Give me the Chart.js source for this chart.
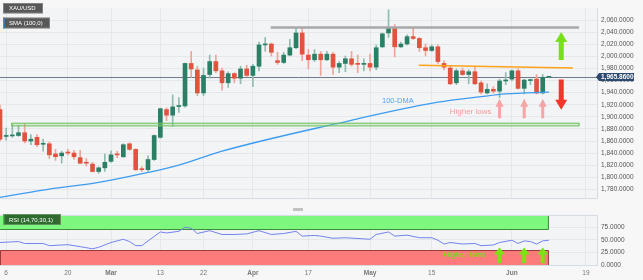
<!DOCTYPE html>
<html>
<head>
<meta charset="utf-8">
<script src="https://cdn.jsdelivr.net/npm/chart.js@4.4.0/dist/chart.umd.min.js"></script>
<style>
    html, body { margin: 0; padding: 0; background: #f7f7f8; }
    #wrap { position: relative; width: 643px; height: 280px; overflow: hidden; }
    #priceChart { position: absolute; left: 0; top: 0; }
    #rsiChart { position: absolute; left: 0; top: 207px; }
    #scroll { position: absolute; left: 293px; top: 208px; width: 10px; height: 3px; background: #c2c2c2; }
</style>
</head>
<body>
<div id="wrap">
    <canvas id="priceChart" width="643" height="207"></canvas>
    <div id="scroll"></div>
    <canvas id="rsiChart" width="643" height="73"></canvas>
</div>
<script>
// x axis: one slot per trading day, index 0 = Feb 3
const xMin = 0, xMax = 96.8;
const tickIdx = [1, 11, 18, 26, 33, 41, 50, 60, 70, 83, 95];
const tickText = ["6", "20", "Mar", "13", "22", "Apr", "17", "May", "15", "Jun", "19"];

// price panel
const priceMin = 1764, priceMax = 2080;
const priceTicks = [1780, 1800, 1820, 1840, 1860, 1880, 1900, 1920, 1940, 1960, 1980, 2000, 2020, 2040, 2060];
const lastPrice = 1965.86;

const opens = [1911.9, 1867.6, 1868.4, 1869.1, 1873.7, 1860.0, 1866.1, 1854.6, 1855.4, 1838.6,
    1835.5, 1841.6, 1840.1, 1832.5, 1824.8, 1821.8, 1809.6, 1815.7, 1826.4, 1838.6,
    1834.0, 1855.4, 1846.2, 1814.1, 1812.6, 1829.4, 1866.1, 1911.9, 1902.7, 1917.0,
    1918.0, 1988.2, 1977.5, 1939.4, 1969.9, 1991.3, 1976.0, 1956.2, 1971.4, 1963.8,
    1979.1, 1968.4, 1983.6, 2018.8, 2020.3, 1992.8, 1989.8, 2002.0, 2014.2, 2038.6,
    2002.0, 1994.3, 2003.5, 1994.3, 2003.5, 1982.1, 1988.2, 1995.9, 1988.2, 1986.7,
    1988.2, 1982.1, 2015.7, 2038.6, 2046.3, 2015.7, 2020.3, 2032.5, 2029.5, 2014.2,
    2009.6, 2015.7, 1988.2, 1980.6, 1956.2, 1976.0, 1969.9, 1974.5, 1956.2, 1939.4,
    1945.5, 1942.4, 1959.2, 1962.3, 1976.0, 1947.0, 1959.9, 1962.3, 1939.4, 1965.3];
const highs = [1919.5, 1881.3, 1887.4, 1885.9, 1889.0, 1870.6, 1870.6, 1863.0, 1858.4, 1846.2,
    1843.2, 1846.2, 1844.7, 1844.7, 1830.9, 1824.8, 1817.2, 1838.6, 1843.2, 1843.2,
    1855.4, 1856.9, 1847.0, 1817.2, 1835.5, 1870.0, 1914.5, 1914.9, 1936.3, 1931.7,
    1989.0, 2008.1, 1983.6, 1980.6, 2002.0, 2002.0, 1980.6, 1974.5, 1973.0, 1983.6,
    1985.2, 1986.7, 2023.4, 2031.0, 2021.8, 2006.6, 2006.6, 2027.9, 2046.3, 2046.3,
    2011.1, 2011.1, 2008.1, 2008.1, 2006.6, 1991.3, 2000.5, 2008.1, 2002.0, 1995.9,
    2003.5, 2018.8, 2038.6, 2076.8, 2052.4, 2023.4, 2035.6, 2046.3, 2031.0, 2020.3,
    2018.8, 2018.8, 1992.8, 1983.6, 1979.1, 1980.6, 1977.5, 1983.6, 1959.2, 1954.6,
    1950.0, 1962.3, 1973.0, 1977.5, 1979.1, 1962.3, 1962.3, 1969.9, 1969.9, 1966.5];
const lows = [1860.0, 1861.5, 1866.1, 1867.6, 1856.9, 1853.9, 1850.8, 1843.2, 1831.0, 1827.9,
    1823.3, 1837.1, 1829.4, 1822.5, 1818.7, 1808.8, 1806.5, 1809.6, 1824.8, 1832.5,
    1833.0, 1844.7, 1811.1, 1809.6, 1809.6, 1827.9, 1864.5, 1893.6, 1884.4, 1907.3,
    1916.0, 1965.3, 1934.8, 1934.8, 1963.8, 1973.0, 1943.9, 1948.5, 1956.2, 1954.6,
    1966.9, 1950.0, 1976.0, 2008.1, 2000.5, 1986.7, 1988.2, 2000.5, 2012.7, 1992.8,
    1979.1, 1991.3, 1968.4, 1992.8, 1969.9, 1973.0, 1974.5, 1983.6, 1973.0, 1976.0,
    1976.0, 1977.5, 2014.2, 2031.0, 1998.9, 2014.2, 2018.8, 2027.9, 2008.1, 2000.5,
    2008.1, 1988.2, 1977.5, 1953.1, 1953.1, 1968.4, 1954.6, 1953.1, 1937.8, 1937.8,
    1939.4, 1931.7, 1953.1, 1959.2, 1945.5, 1937.8, 1953.1, 1937.8, 1937.8, 1964.8];
const closes = [1863.0, 1869.1, 1869.4, 1873.7, 1860.0, 1863.0, 1853.9, 1856.2, 1837.1, 1834.0,
    1840.1, 1840.1, 1834.0, 1823.3, 1823.3, 1809.6, 1815.7, 1824.8, 1837.1, 1837.1,
    1853.9, 1846.2, 1812.6, 1812.6, 1829.4, 1869.1, 1913.4, 1902.7, 1916.4, 1918.6,
    1988.2, 1979.1, 1939.4, 1968.4, 1991.3, 1976.0, 1956.2, 1971.4, 1963.8, 1979.1,
    1968.4, 1983.6, 2018.8, 2020.3, 2006.6, 1989.8, 2002.0, 2014.2, 2038.6, 2003.5,
    1994.3, 2003.5, 1994.3, 2003.5, 1982.1, 1988.2, 1995.9, 1986.7, 1986.7, 1988.2,
    1982.1, 2014.2, 2037.1, 2046.3, 2015.7, 2020.3, 2032.5, 2029.5, 2014.2, 2009.6,
    2015.7, 1991.3, 1982.1, 1954.6, 1976.0, 1969.9, 1974.5, 1954.6, 1940.9, 1945.5,
    1942.4, 1959.2, 1960.7, 1976.0, 1947.0, 1960.7, 1960.7, 1939.4, 1965.3, 1965.86];

// 100-day SMA, read at a few points
const smaIdx = [0, 7, 16, 24, 29, 36, 54, 71, 78, 82, 89];
const smaVal = [1766.8, 1779.0, 1791.5, 1808.0, 1820.3, 1843.2, 1887.4, 1924.1, 1933.3, 1937.8, 1940.9];

// drawn levels
const resistance = { from: 43.9, to: 93.9, price: 2047.8 };
const trendLine = { from: 67.9, to: 92.9, p1: 1985.2, p2: 1980.6 };
const supportZone = { from: 1.9, to: 93.9, top: 1889.5, bottom: 1884.9 };
const higherLowIdx = [81, 85, 88];

// RSI panel
const rsiIdx = [0, 3, 4, 7, 8, 11, 13, 15, 16, 18, 20, 21, 22, 23, 24, 26, 27, 29, 30, 31,
    32, 34, 36, 38, 40, 42, 44, 46, 48, 49, 51, 52, 54, 56, 60, 61, 63, 64, 66, 68,
    70, 71, 72, 73, 75, 77, 78, 80, 81, 83, 84, 85, 86, 87, 88, 89];
const rsiVal = [44.9, 46.8, 43.0, 43.0, 38.7, 40.6, 36.8, 32.5, 35.5, 44.9, 51.3, 46.8, 38.7, 38.7, 48.1, 65.6, 63.7, 66.9, 75.0, 73.1,
    62.6, 68.2, 60.7, 60.7, 61.8, 68.2, 60.7, 62.6, 66.9, 57.5, 58.8, 57.5, 53.2, 54.3, 51.3, 60.7, 65.6, 57.5, 59.4, 54.3,
    54.3, 49.4, 41.9, 44.9, 41.9, 43.0, 38.7, 40.0, 44.9, 49.4, 43.0, 48.1, 46.8, 41.9, 48.1, 49.4];
const rsiTicks = [0, 25, 50, 75];

const FONT = "'Liberation Sans', Arial, sans-serif";
const GRID = "#e5e7eb";
const PLOT_BG = "#f3f4f6";
const GREEN = "#2a7f66", RED = "#e1533f";
const GREEN_W = "#8fbcae", RED_W = "#eea497";

function fmt(v) {
    return Number(v).toLocaleString("en-US", { minimumFractionDigits: 4, maximumFractionDigits: 4 });
}

function arrow(ctx, x, yTail, yTip, shaft, headW, headLen, color) {
    const dir = yTip < yTail ? 1 : -1;
    const yBase = yTip + dir * headLen;
    ctx.fillStyle = color;
    ctx.beginPath();
    ctx.moveTo(x - shaft / 2, yTail);
    ctx.lineTo(x - shaft / 2, yBase);
    ctx.lineTo(x - headW / 2, yBase);
    ctx.lineTo(x, yTip);
    ctx.lineTo(x + headW / 2, yBase);
    ctx.lineTo(x + shaft / 2, yBase);
    ctx.lineTo(x + shaft / 2, yTail);
    ctx.closePath();
    ctx.fill();
}

function labelBox(ctx, x, y, w, h, fill, text, stripe) {
    ctx.fillStyle = fill;
    ctx.fillRect(x, y, w, h);
    ctx.strokeStyle = "rgba(255,255,255,0.25)";
    ctx.lineWidth = 1;
    ctx.strokeRect(x + 0.5, y + 0.5, w - 1, h - 1);
    if (stripe) {
        ctx.fillStyle = stripe;
        ctx.fillRect(x, y, 1.5, h);
    }
    ctx.fillStyle = "#fff";
    ctx.font = "6px " + FONT;
    ctx.textAlign = "left";
    ctx.textBaseline = "middle";
    ctx.fillText(text, x + 6, y + h / 2 + 0.5);
}

function xAxis(showLabels) {
    return {
        type: "linear",
        min: xMin,
        max: xMax,
        offset: false,
        grid: { offset: false, color: GRID, drawTicks: false },
        border: { display: false },
        ticks: {
            display: showLabels,
            autoSkip: false,
            maxRotation: 0,
            padding: 3,
            color: "#777",
            font: ctx => ({ family: FONT, size: 6.5, weight: /[A-Za-z]/.test(tickText[ctx.index] || "") ? "bold" : "normal" }),
            callback: (v, i) => tickText[i]
        },
        afterBuildTicks: s => { s.ticks = tickIdx.map(v => ({ value: v })); },
        afterFit: s => { s.height = showLabels ? 14 : 0; }
    };
}

const pricePlugin = {
    id: "priceDecor",
    beforeDraw(chart) {
        const { ctx, chartArea: a } = chart;
        ctx.save();
        ctx.fillStyle = PLOT_BG;
        ctx.fillRect(a.left, a.top, a.width, a.height);
        ctx.restore();
    },
    beforeDatasetsDraw(chart) {
        const { ctx, chartArea: a, scales: { y } } = chart;
        const py = Math.round(y.getPixelForValue(lastPrice)) + 0.5;
        ctx.save();
        ctx.strokeStyle = "#6f7a8c";
        ctx.lineWidth = 1;
        ctx.beginPath();
        ctx.moveTo(a.left, py);
        ctx.lineTo(a.right, py);
        ctx.stroke();
        ctx.restore();
    },
    afterDatasetsDraw(chart) {
        const { ctx, scales: { x, y } } = chart;
        ctx.save();

        // resistance
        ctx.strokeStyle = "#a8a8a8";
        ctx.lineWidth = 2.5;
        ctx.beginPath();
        ctx.moveTo(x.getPixelForValue(resistance.from), y.getPixelForValue(resistance.price));
        ctx.lineTo(x.getPixelForValue(resistance.to), y.getPixelForValue(resistance.price));
        ctx.stroke();

        // falling trend line
        ctx.strokeStyle = "#ffa31a";
        ctx.lineWidth = 1.5;
        ctx.beginPath();
        ctx.moveTo(x.getPixelForValue(trendLine.from), y.getPixelForValue(trendLine.p1));
        ctx.lineTo(x.getPixelForValue(trendLine.to), y.getPixelForValue(trendLine.p2));
        ctx.stroke();

        // support zone
        const sx1 = x.getPixelForValue(supportZone.from), sx2 = x.getPixelForValue(supportZone.to);
        const sy1 = y.getPixelForValue(supportZone.top), sy2 = y.getPixelForValue(supportZone.bottom);
        ctx.fillStyle = "rgba(150,215,130,0.35)";
        ctx.fillRect(sx1, sy1, sx2 - sx1, sy2 - sy1);
        ctx.strokeStyle = "#6cbf5c";
        ctx.lineWidth = 1;
        ctx.strokeRect(sx1, sy1, sx2 - sx1, sy2 - sy1);

        // big arrows
        const ax = x.getPixelForValue(91);
        arrow(ctx, ax, y.getPixelForValue(1994), y.getPixelForValue(2040), 5, 12, 10, "#78e01a");
        arrow(ctx, ax, y.getPixelForValue(1961.7), y.getPixelForValue(1911.5), 5, 12, 10, "#f4362a");

        // higher lows
        higherLowIdx.forEach(i => {
            arrow(ctx, x.getPixelForValue(i), y.getPixelForValue(1897.5), y.getPixelForValue(1930), 3, 8, 8, "#f4a5a5");
        });
        ctx.fillStyle = "#f49a9a";
        ctx.font = "8px " + FONT;
        ctx.textAlign = "center";
        ctx.textBaseline = "middle";
        ctx.fillText("Higher lows", x.getPixelForValue(76.3), y.getPixelForValue(1907.8));

        ctx.fillStyle = "#4fa3f2";
        ctx.font = "7.5px " + FONT;
        ctx.fillText("100-DMA", x.getPixelForValue(64.5), y.getPixelForValue(1925.6));
        ctx.restore();
    },
    afterDraw(chart) {
        const { ctx, chartArea: a, scales: { y } } = chart;
        ctx.save();
        // panel border
        ctx.strokeStyle = "#d6dce4";
        ctx.lineWidth = 1;
        ctx.beginPath();
        ctx.moveTo(a.right + 0.5, a.top);
        ctx.lineTo(a.right + 0.5, a.bottom - 0.5);
        ctx.lineTo(a.left, a.bottom - 0.5);
        ctx.stroke();

        // current price tag
        const py = y.getPixelForValue(lastPrice);
        ctx.fillStyle = "#2d4a6e";
        ctx.beginPath();
        ctx.moveTo(a.right - 1, py);
        ctx.lineTo(a.right + 2, py - 4);
        ctx.lineTo(a.right + 37, py - 4);
        ctx.lineTo(a.right + 37, py + 4);
        ctx.lineTo(a.right + 2, py + 4);
        ctx.closePath();
        ctx.fill();
        ctx.fillStyle = "#fff";
        ctx.font = "bold 6.5px " + FONT;
        ctx.textAlign = "left";
        ctx.textBaseline = "middle";
        ctx.fillText(fmt(lastPrice), a.right + 4, py + 0.5);

        labelBox(ctx, 3, 3, 40, 10.5, "#585858", "XAU/USD");
        labelBox(ctx, 3, 17.5, 47, 11, "#585858", "SMA (100,0)", "#2f8ff0");
        ctx.restore();
    }
};

const rsiPlugin = {
    id: "rsiDecor",
    beforeDraw(chart) {
        const { ctx, chartArea: a } = chart;
        ctx.save();
        ctx.fillStyle = PLOT_BG;
        ctx.fillRect(a.left, a.top, a.width, a.height);
        ctx.restore();
    },
    beforeDatasetsDraw(chart) {
        const { ctx, chartArea: a, scales: { x, y } } = chart;
        const bx2 = x.getPixelForValue(89);
        ctx.save();
        // overbought band
        const g1 = y.getPixelForValue(97.5), g2 = y.getPixelForValue(70);
        ctx.fillStyle = "#7df77d";
        ctx.fillRect(a.left, g1, bx2 - a.left, g2 - g1);
        ctx.strokeStyle = "#3c8c3c";
        ctx.lineWidth = 1;
        ctx.beginPath();
        ctx.moveTo(a.left, Math.round(g2) - 0.5);
        ctx.lineTo(bx2 - 0.5, Math.round(g2) - 0.5);
        ctx.lineTo(bx2 - 0.5, g1);
        ctx.stroke();
        // oversold band
        const r1 = y.getPixelForValue(30), r2 = y.getPixelForValue(0);
        ctx.fillStyle = "#fe7b7b";
        ctx.fillRect(a.left, r1, bx2 - a.left, r2 - r1);
        ctx.strokeStyle = "#9a3b3b";
        ctx.beginPath();
        ctx.moveTo(a.left + 0.5, r2);
        ctx.lineTo(a.left + 0.5, Math.round(r1) + 0.5);
        ctx.lineTo(bx2 - 0.5, Math.round(r1) + 0.5);
        ctx.lineTo(bx2 - 0.5, r2);
        ctx.stroke();
        ctx.restore();
    },
    afterDatasetsDraw(chart) {
        const { ctx, scales: { x, y } } = chart;
        ctx.save();
        higherLowIdx.forEach(i => {
            arrow(ctx, x.getPixelForValue(i), y.getPixelForValue(4), y.getPixelForValue(35), 4, 11, 7, "#7be312");
        });
        ctx.fillStyle = "#7be312";
        ctx.font = "8px " + FONT;
        ctx.textAlign = "center";
        ctx.textBaseline = "middle";
        ctx.fillText("Higher lows", x.getPixelForValue(75.3), y.getPixelForValue(21));
        ctx.restore();
    },
    afterDraw(chart) {
        const { ctx, chartArea: a } = chart;
        ctx.save();
        ctx.strokeStyle = "#d6dce4";
        ctx.lineWidth = 1;
        ctx.strokeRect(a.left - 1, a.top + 0.5, a.width + 1.5, a.height - 1);
        labelBox(ctx, 3, 7, 58, 11, "#2e6b2e", "RSI (14,70,30,1)", "#4caf50");
        ctx.restore();
    }
};

Chart.defaults.font.family = FONT;

new Chart(document.getElementById("priceChart"), {
    type: "bar",
    data: {
        datasets: [
            {
                type: "line",
                data: smaIdx.map((v, i) => ({ x: v, y: smaVal[i] })),
                borderColor: "#3d9cf2",
                borderWidth: 1.3,
                pointRadius: 0,
                cubicInterpolationMode: "monotone",
                order: 1
            },
            {
                data: opens.map((o, i) => ({ x: i, y: [o, closes[i]] })),
                backgroundColor: opens.map((o, i) => closes[i] >= o ? GREEN : RED),
                barThickness: 4,
                minBarLength: 1,
                grouped: false,
                order: 2
            },
            {
                data: opens.map((o, i) => ({ x: i, y: [lows[i], highs[i]] })),
                backgroundColor: opens.map((o, i) => closes[i] >= o ? GREEN_W : RED_W),
                barThickness: 1,
                grouped: false,
                order: 3
            }
        ]
    },
    options: {
        responsive: false,
        animation: false,
        layout: { padding: 0 },
        plugins: { legend: { display: false }, tooltip: { enabled: false } },
        scales: {
            x: xAxis(false),
            y: {
                position: "right",
                min: priceMin,
                max: priceMax,
                grid: { color: GRID, drawTicks: false },
                border: { display: false },
                ticks: { padding: 4, color: "#555", font: { size: 6.5 }, callback: v => fmt(v) },
                afterBuildTicks: s => { s.ticks = priceTicks.map(v => ({ value: v })); },
                afterFit: s => { s.width = 46; }
            }
        }
    },
    plugins: [pricePlugin]
});

new Chart(document.getElementById("rsiChart"), {
    type: "line",
    data: {
        datasets: [{
            data: rsiIdx.map((v, i) => ({ x: v, y: rsiVal[i] })),
            borderColor: "#7383ee",
            borderWidth: 1,
            pointRadius: 0,
            tension: 0
        }]
    },
    options: {
        responsive: false,
        animation: false,
        layout: { padding: { top: 5, left: 0, right: 0, bottom: 0 } },
        plugins: { legend: { display: false }, tooltip: { enabled: false } },
        scales: {
            x: xAxis(true),
            y: {
                position: "right",
                min: -1.3,
                max: 99.2,
                grid: { color: GRID, drawTicks: false },
                border: { display: false },
                ticks: { padding: 4, color: "#555", font: { size: 6.5 }, callback: v => fmt(v) },
                afterBuildTicks: s => { s.ticks = rsiTicks.map(v => ({ value: v })); },
                afterFit: s => { s.width = 46; }
            }
        }
    },
    plugins: [rsiPlugin]
});
</script>
</body>
</html>
